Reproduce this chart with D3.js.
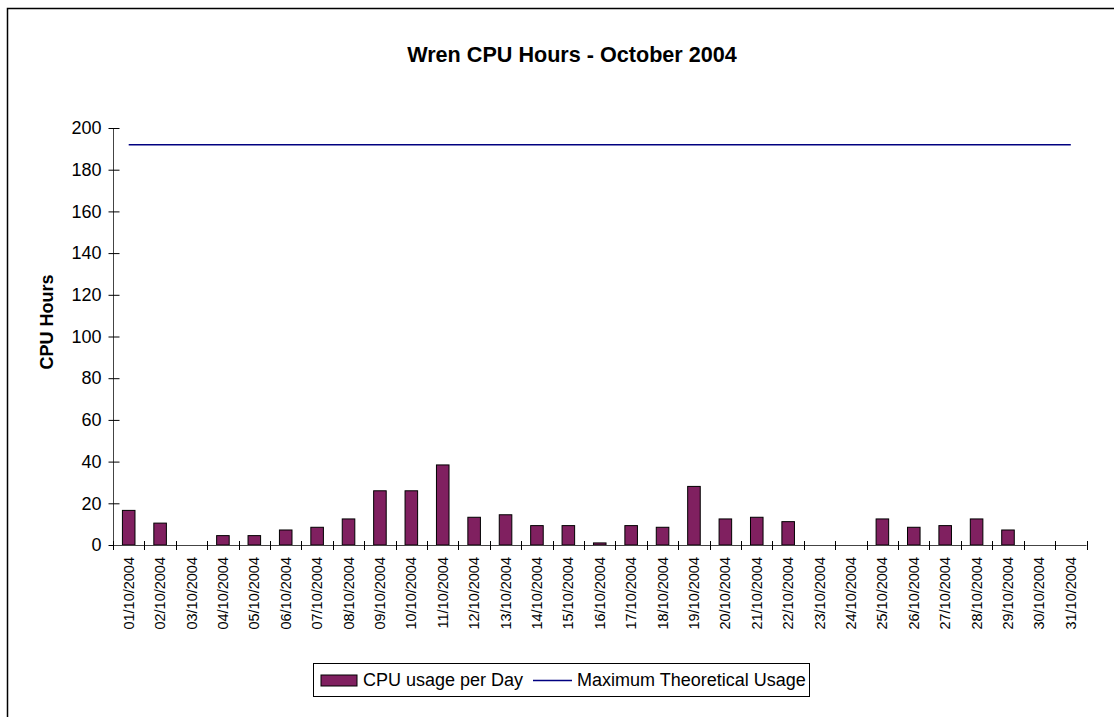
<!DOCTYPE html>
<html>
<head>
<meta charset="utf-8">
<script src="https://cdn.jsdelivr.net/npm/d3@7"></script>
<style>
  body { margin: 0; background: #fff; }
  svg text { font-family: "Liberation Sans", Arial, sans-serif; }
</style>
</head>
<body>
<script>
var days = [
  "01/10/2004","02/10/2004","03/10/2004","04/10/2004","05/10/2004","06/10/2004",
  "07/10/2004","08/10/2004","09/10/2004","10/10/2004","11/10/2004","12/10/2004",
  "13/10/2004","14/10/2004","15/10/2004","16/10/2004","17/10/2004","18/10/2004",
  "19/10/2004","20/10/2004","21/10/2004","22/10/2004","23/10/2004","24/10/2004",
  "25/10/2004","26/10/2004","27/10/2004","28/10/2004","29/10/2004","30/10/2004",
  "31/10/2004"
];
var cpuUsage = [
  16.6, 10.5, 0, 4.5, 4.5, 7.2, 8.5, 12.5, 26, 26, 38.4, 13.3, 14.5, 9.3, 9.3,
  1, 9.3, 8.5, 28.1, 12.5, 13.3, 11.2, 0, 0, 12.5, 8.5, 9.3, 12.5, 7.2, 0, 0
];
var maxUsage = days.map(function(d){ return 192; });
var yTicks = [0, 20, 40, 60, 80, 100, 120, 140, 160, 180, 200];
var seriesNames = ["CPU usage per Day", "Maximum Theoretical Usage"];

var barColor = "#802060";
var lineColor = "#000080";

var svg = d3.select("body")
  .append("svg")
  .attr("width", 1114)
  .attr("height", 717);

// chart frame (runs off the right and bottom edges like the original)
svg.append("rect")
  .attr("x", 7.5)
  .attr("y", 8.5)
  .attr("width", 1200)
  .attr("height", 800)
  .attr("fill", "#fff")
  .attr("stroke", "#000")
  .attr("stroke-width", 1.5);

var x = d3.scaleBand()
  .domain(days)
  .range([113, 1086.5])
  .paddingInner(0.6)
  .paddingOuter(0.3);

var xBand = d3.scaleBand()
  .domain(days)
  .range([113, 1086.5]);

var y = d3.scaleLinear()
  .domain([0, 200])
  .range([545, 128]);

svg.append("text")
  .attr("x", 572)
  .attr("y", 62)
  .attr("text-anchor", "middle")
  .attr("font-size", 21.6)
  .attr("font-weight", "bold")
  .text("Wren CPU Hours - October 2004");

svg.append("text")
  .attr("transform", "translate(53,322) rotate(-90)")
  .attr("text-anchor", "middle")
  .attr("font-size", 18)
  .attr("font-weight", "bold")
  .text("CPU Hours");

// y axis
var yAxis = svg.append("g")
  .attr("transform", "translate(113.5,0)")
  .call(d3.axisLeft(y).tickValues(yTicks).tickSize(5).tickSizeOuter(0));
yAxis.select(".domain").attr("stroke", "#444").attr("d", "M0," + y(200) + "V" + y(0));
yAxis.selectAll(".tick line").attr("stroke", "#000").attr("x1", 6);
yAxis.selectAll(".tick text")
  .attr("x", -12)
  .attr("font-size", 18)
  .attr("fill", "#000")
  .style("font-family", "Liberation Sans, Arial, sans-serif");

// bars
svg.append("g").selectAll("rect")
  .data(cpuUsage)
  .enter().append("rect")
  .attr("x", function(d, i){ return x(days[i]); })
  .attr("y", function(d){ return y(d); })
  .attr("width", x.bandwidth())
  .attr("height", function(d){ return y(0) - y(d); })
  .attr("fill", barColor)
  .attr("stroke", "#000")
  .attr("stroke-width", 1);

// x axis with crossing ticks at band boundaries
var xAxisG = svg.append("g").attr("class", "xaxis");
xAxisG.append("line")
  .attr("x1", 113).attr("x2", 1086.5)
  .attr("y1", 545.5).attr("y2", 545.5)
  .attr("stroke", "#444");
xAxisG.selectAll("line.tick")
  .data(days.concat(["end"]))
  .enter().append("line")
  .attr("class", "tick")
  .attr("x1", function(d, i){ return Math.round(xBand.range()[0] + i * xBand.step()) + 0.5; })
  .attr("x2", function(d, i){ return Math.round(xBand.range()[0] + i * xBand.step()) + 0.5; })
  .attr("y1", 541)
  .attr("y2", 550)
  .attr("stroke", "#000");

xAxisG.selectAll("text")
  .data(days)
  .enter().append("text")
  .attr("transform", function(d){
    return "translate(" + (xBand(d) + xBand.bandwidth() / 2) + ",557) rotate(-90)";
  })
  .attr("dy", "0.35em")
  .attr("text-anchor", "end")
  .attr("font-size", 14.5)
  .text(function(d){ return d; });

// maximum line
var line = d3.line()
  .x(function(d, i){ return xBand(days[i]) + xBand.bandwidth() / 2; })
  .y(function(d){ return y(d); });

svg.append("path")
  .datum(maxUsage)
  .attr("d", line)
  .attr("fill", "none")
  .attr("stroke", lineColor)
  .attr("stroke-width", 1.5);

// legend
var legend = svg.append("g");
legend.append("rect")
  .attr("x", 313.5).attr("y", 663.5)
  .attr("width", 496).attr("height", 33)
  .attr("fill", "#fff")
  .attr("stroke", "#000");
legend.append("rect")
  .attr("x", 321).attr("y", 675)
  .attr("width", 36).attr("height", 11)
  .attr("fill", barColor)
  .attr("stroke", "#000");
legend.append("text")
  .attr("x", 363).attr("y", 686)
  .attr("font-size", 18)
  .text(seriesNames[0]);
legend.append("line")
  .attr("x1", 533).attr("x2", 572)
  .attr("y1", 680.5).attr("y2", 680.5)
  .attr("stroke", lineColor)
  .attr("stroke-width", 1.5);
legend.append("text")
  .attr("x", 577).attr("y", 686)
  .attr("font-size", 18)
  .text(seriesNames[1]);
</script>
</body>
</html>
